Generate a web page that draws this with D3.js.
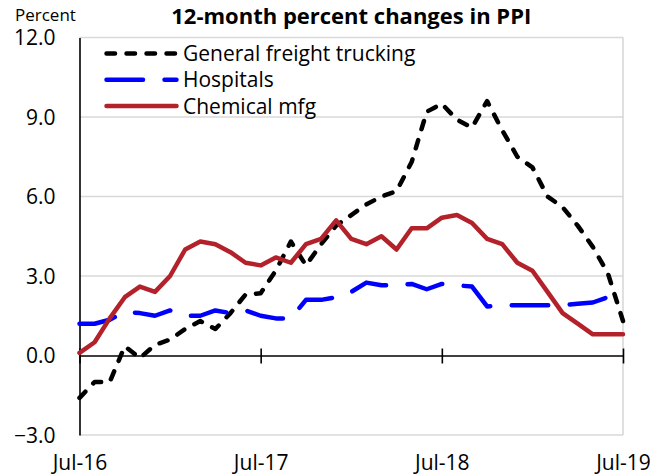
<!DOCTYPE html>
<html>
<head>
<meta charset="utf-8">
<script src="https://cdn.jsdelivr.net/npm/d3@7"></script>
<style>
  html, body { margin: 0; padding: 0; background: #fff; }
  svg { display: block; }
  text { font-family: "Open Sans", "Noto Sans", "Liberation Sans", sans-serif; fill: #000; }
</style>
</head>
<body>
<svg id="chart" width="665" height="476"></svg>
<script>
// Monthly categories, Jul 2016 – Jul 2019
const months = [
  "Jul-16","Aug-16","Sep-16","Oct-16","Nov-16","Dec-16",
  "Jan-17","Feb-17","Mar-17","Apr-17","May-17","Jun-17",
  "Jul-17","Aug-17","Sep-17","Oct-17","Nov-17","Dec-17",
  "Jan-18","Feb-18","Mar-18","Apr-18","May-18","Jun-18",
  "Jul-18","Aug-18","Sep-18","Oct-18","Nov-18","Dec-18",
  "Jan-19","Feb-19","Mar-19","Apr-19","May-19","Jun-19","Jul-19"
];
const xTickLabels = ["Jul-16","Jul-17","Jul-18","Jul-19"];
const yTickValues = [-3, 0, 3, 6, 9, 12];

// 12-month percent changes in PPI
const freightTrucking = [
  -1.6, -1.0, -1.0, 0.35, -0.1, 0.4, 0.6, 1.0, 1.3, 1.0, 1.6, 2.3,
  2.35, 3.2, 4.3, 3.4, 4.2, 4.9, 5.3, 5.7, 6.0, 6.2, 7.3, 9.2,
  9.5, 8.9, 8.6, 9.6, 8.5, 7.5, 7.1, 6.0, 5.6, 4.9, 4.1, 3.1, 1.3
];
const hospitals = [
  1.2, 1.2, 1.35, 1.65, 1.6, 1.5, 1.7, 1.5, 1.5, 1.7, 1.6, 1.7,
  1.5, 1.4, 1.4, 2.1, 2.1, 2.2, 2.4, 2.75, 2.65, 2.65, 2.7, 2.5,
  2.7, 2.65, 2.6, 1.85, 1.9, 1.9, 1.9, 1.9, 1.9, 1.95, 2.0, 2.2, 2.3
];
const chemicalMfg = [
  0.1, 0.5, 1.4, 2.2, 2.6, 2.4, 3.0, 4.0, 4.3, 4.2, 3.9, 3.5,
  3.4, 3.7, 3.5, 4.2, 4.4, 5.1, 4.4, 4.2, 4.5, 4.0, 4.8, 4.8,
  5.2, 5.3, 5.0, 4.4, 4.2, 3.5, 3.2, 2.4, 1.6, 1.2, 0.8, 0.8, 0.8
];

const seriesNames = ["General freight trucking", "Hospitals", "Chemical mfg"];
const seriesValues = [freightTrucking, hospitals, chemicalMfg];
const seriesColors = ["#000000", "#0000ff", "#b3222b"];
const seriesDashes = ["8.5,11.5", "36.5,21.5", null];

const svg = d3.select("#chart");
const plotLeft = 79.5, plotRight = 623, plotTop = 37.5, plotBottom = 435;

const x = d3.scalePoint().domain(months).range([plotLeft, plotRight]);
const y = d3.scaleLinear().domain([-3, 12]).range([plotBottom, plotTop]);

// Horizontal gridlines and the top/bottom edges of the plot area
svg.append("g")
  .selectAll("line")
  .data([3, 6, 9, 12, -3])
  .join("line")
  .attr("x1", plotLeft).attr("x2", plotRight)
  .attr("y1", d => y(d)).attr("y2", d => y(d))
  .attr("stroke", "#d9d9d9").attr("stroke-width", 1.3);

// Right edge of the plot area
svg.append("line")
  .attr("x1", plotRight).attr("x2", plotRight)
  .attr("y1", y(12)).attr("y2", y(-3))
  .attr("stroke", "#cfcfcf").attr("stroke-width", 1.3);

// Value axis
const yAxis = svg.append("g")
  .attr("transform", `translate(${plotLeft},0)`)
  .call(d3.axisLeft(y).tickValues(yTickValues).tickFormat(d3.format(".1f")).tickSize(0).tickPadding(24));
yAxis.select(".domain").attr("stroke", "#000").attr("stroke-width", 1.6);
yAxis.selectAll("text")
  .attr("font-size", 21)
  .attr("font-family", null)
  .attr("dy", "0.35em");

// Category axis along zero, with ticks crossing the line
const xAxis = svg.append("g")
  .attr("transform", `translate(0,${y(0)})`)
  .call(d3.axisBottom(x).tickValues(xTickLabels).tickSizeInner(8).tickSizeOuter(0));
xAxis.select(".domain").attr("stroke", "#000").attr("stroke-width", 1.6);
xAxis.selectAll(".tick line")
  .attr("y1", -7).attr("y2", 8)
  .attr("stroke", "#000").attr("stroke-width", 1.6);
xAxis.selectAll("text")
  .attr("font-size", 21)
  .attr("font-family", null)
  .attr("y", 470 - y(0))
  .attr("dy", null);

// Series lines
const line = d3.line()
  .x((d, i) => x(months[i]))
  .y(d => y(d));

svg.append("g")
  .selectAll("path")
  .data(seriesValues)
  .join("path")
  .attr("d", d => line(d))
  .attr("fill", "none")
  .attr("stroke", (d, i) => seriesColors[i])
  .attr("stroke-width", 4.5)
  .attr("stroke-linecap", "round")
  .attr("stroke-linejoin", "round")
  .attr("stroke-dasharray", (d, i) => seriesDashes[i]);

// Legend
const legend = svg.append("g");
const legendRows = legend.selectAll("g")
  .data(seriesNames)
  .join("g")
  .attr("transform", (d, i) => `translate(0,${53.5 + i * 26.3})`);
legendRows.append("line")
  .attr("x1", 106.5).attr("x2", 176.5)
  .attr("y1", 0).attr("y2", 0)
  .attr("stroke", (d, i) => seriesColors[i])
  .attr("stroke-width", 4.5)
  .attr("stroke-linecap", "round")
  .attr("stroke-dasharray", (d, i) => seriesDashes[i]);
legendRows.append("text")
  .attr("x", 183)
  .attr("y", 7.5)
  .attr("font-size", 21)
  .text(d => d);

// Titles
svg.append("text")
  .attr("x", (plotLeft + plotRight) / 2)
  .attr("y", 24)
  .attr("text-anchor", "middle")
  .attr("font-size", 22)
  .attr("font-weight", "bold")
  .text("12-month percent changes in PPI");

svg.append("text")
  .attr("x", 15)
  .attr("y", 21)
  .attr("font-size", 17)
  .text("Percent");
</script>
</body>
</html>
